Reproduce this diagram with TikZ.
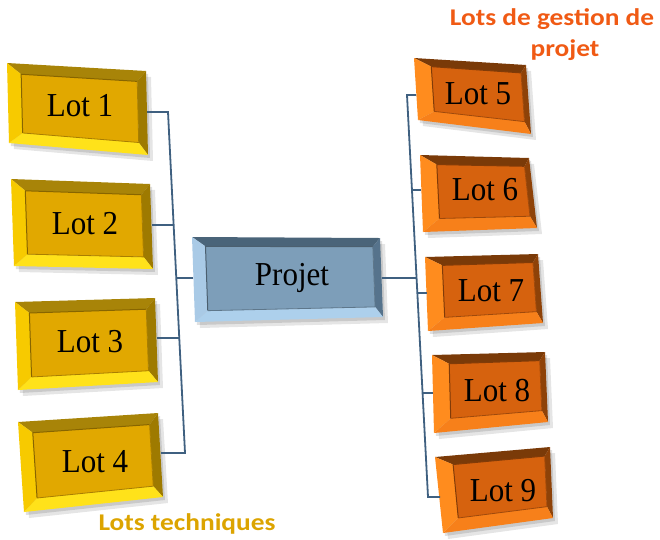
\documentclass[tikz,border=0pt]{standalone}
\usepackage{fontspec}
\setmainfont{Liberation Serif}
\newfontfamily\lblfont{Carlito}
\usetikzlibrary{calc}

\definecolor{Y-face}{HTML}{E1A800}
\definecolor{Y-top}{HTML}{A88408}
\definecolor{Y-left}{HTML}{F7CA00}
\definecolor{Y-bot}{HTML}{FFE21A}
\definecolor{Y-right}{HTML}{9E7A00}
\definecolor{O-face}{HTML}{D6620E}
\definecolor{O-top}{HTML}{7A3A08}
\definecolor{O-left}{HTML}{FF8C1E}
\definecolor{O-bot}{HTML}{F7801A}
\definecolor{O-right}{HTML}{8E4208}
\definecolor{B-face}{HTML}{7D9EB9}
\definecolor{B-top}{HTML}{4A6479}
\definecolor{B-left}{HTML}{A9CAE6}
\definecolor{B-bot}{HTML}{ADD0EC}
\definecolor{B-right}{HTML}{56738C}
\definecolor{linkcol}{HTML}{3F6080}
\definecolor{orangelbl}{HTML}{F05A14}
\definecolor{goldlbl}{HTML}{DCA400}

\tikzset{
  link/.style={draw=linkcol, line width=1.8pt, line join=miter},
  lottext/.style={font=\fontsize{31}{31}\selectfont, text=black, inner sep=0pt, yscale=1.08},
  lbl/.style={font=\lblfont\bfseries\fontsize{24}{26}\selectfont, inner sep=0pt, xscale=1.14}
}

% #1 name, #2 TL, #3 TR, #4 BR, #5 BL, #6 palette, #7 text pos, #8 text
\newcommand\bevbox[8]{%
  \coordinate (#1-a) at #2;
  \coordinate (#1-b) at #3;
  \coordinate (#1-c) at #4;
  \coordinate (#1-d) at #5;
  \fill[black,opacity=.10] ($(#1-a)+(5,6)$) -- ($(#1-b)+(5,6)$) -- ($(#1-c)+(5,6)$) -- ($(#1-d)+(5,6)$) -- cycle;
  \fill[black,opacity=.12] ($(#1-a)+(2,3)$) -- ($(#1-b)+(2,3)$) -- ($(#1-c)+(2,3)$) -- ($(#1-d)+(2,3)$) -- cycle;
  \coordinate (#1-t1) at ($(#1-a)!\uL!(#1-b)$);
  \coordinate (#1-t2) at ($(#1-a)!\uRc!(#1-b)$);
  \coordinate (#1-b1) at ($(#1-d)!\uL!(#1-c)$);
  \coordinate (#1-b2) at ($(#1-d)!\uRc!(#1-c)$);
  \coordinate (#1-ia) at ($(#1-t1)!\vT!(#1-b1)$);
  \coordinate (#1-id) at ($(#1-t1)!\vBc!(#1-b1)$);
  \coordinate (#1-ib) at ($(#1-t2)!\vT!(#1-b2)$);
  \coordinate (#1-ic) at ($(#1-t2)!\vBc!(#1-b2)$);
  \fill[#6-top] (#1-a) -- (#1-b) -- (#1-ib) -- (#1-ia) -- cycle;
  \fill[#6-right] (#1-b) -- (#1-c) -- (#1-ic) -- (#1-ib) -- cycle;
  \fill[#6-bot] (#1-d) -- (#1-c) -- (#1-ic) -- (#1-id) -- cycle;
  \fill[#6-left] (#1-a) -- (#1-ia) -- (#1-id) -- (#1-d) -- cycle;
  \fill[#6-face] (#1-ia) -- (#1-ib) -- (#1-ic) -- (#1-id) -- cycle;
  \draw[#6-face!60!black, line width=1pt] (#1-id) -- (#1-ia) -- (#1-ib);
  \draw[#6-face!75!black, line width=0.8pt] (#1-ib) -- (#1-ic) -- (#1-id);
  \node[lottext] (#1) at #7 {#8};
}

\begin{document}
\begin{tikzpicture}[x=1pt,y=-1pt]
\useasboundingbox (0,0) rectangle (660,539);

% yellow boxes
\def\uL{.10}\def\uRc{.935}\def\vT{.13}\def\vBc{.86}
\bevbox{b1}{(7,63)}{(146,71)}{(148,155)}{(9,143)}{Y}{(80,106)}{Lot 1}
\bevbox{b2}{(11,179)}{(150,184)}{(153,269)}{(14,266)}{Y}{(85,224)}{Lot 2}
\bevbox{b3}{(15,302)}{(155,298)}{(158,382)}{(18,390)}{Y}{(90,342)}{Lot 3}
\bevbox{b4}{(18,422)}{(158,413)}{(163,497)}{(24,512)}{Y}{(95,462)}{Lot 4}

% central box
\def\uL{.07}\def\uRc{.96}\def\vT{.11}\def\vBc{.87}
\bevbox{pr}{(192,237)}{(380,238)}{(383,317)}{(195,322)}{B}{(292,278)}{Projet}

% orange boxes
\def\uL{.15}\def\uRc{.95}\def\vT{.12}\def\vBc{.83}
\bevbox{b5}{(414,58)}{(526,65)}{(531,134)}{(418,120)}{O}{(478,94)}{Lot 5}
\bevbox{b6}{(420,155)}{(529,158)}{(537,228)}{(423,232)}{O}{(485,190)}{Lot 6}
\bevbox{b7}{(425,257)}{(538,254)}{(543,323)}{(428,331)}{O}{(491,291)}{Lot 7}
\bevbox{b8}{(432,355)}{(545,352)}{(548,422)}{(434,433)}{O}{(497,391)}{Lot 8}
\bevbox{b9}{(435,457)}{(550,447)}{(553,518)}{(443,533)}{O}{(503,491)}{Lot 9}

% attachment coordinates
\coordinate (e1) at (147,112);
\coordinate (e2) at (152,225);
\coordinate (e3) at (157,338);
\coordinate (e4) at (161,453);
\coordinate (pl) at (193,278);
\coordinate (prr) at (382,278);
\coordinate (e5) at (416,95);
\coordinate (e6) at (421,190);
\coordinate (e7) at (427,293);
\coordinate (e8) at (433,393);
\coordinate (e9) at (440,497);

\coordinate (ls1) at (168,112);
\coordinate (ls2) at (173.6,225);
\coordinate (lsp) at (176.3,278);
\coordinate (ls3) at (179.3,338);
\coordinate (ls4) at (185,453);

\coordinate (rs5) at (407,95);
\coordinate (rs6) at (412,190);
\coordinate (rsp) at (416.6,278);
\coordinate (rs7) at (417.3,293);
\coordinate (rs8) at (422.6,393);
\coordinate (rs9) at (428,497);

\draw[link] (e1) -- (ls1) -- (ls4) -- (e4);
\draw[link] (e2) -- (ls2);
\draw[link] (e3) -- (ls3);
\draw[link] (pl) -- (lsp);

\draw[link] (e5) -- (rs5) -- (rs9) -- (e9);
\draw[link] (e6) -- (rs6);
\draw[link] (e7) -- (rs7);
\draw[link] (e8) -- (rs8);
\draw[link] (prr) -- (rsp);

% labels
\node[lbl, text=orangelbl] (lg1) at (552,19) {Lots de gestion de};
\node[lbl, text=orangelbl] (lg2) at (565,50) {projet};
\node[lbl, text=goldlbl] (lt) at (187,524) {Lots techniques};
\end{tikzpicture}
\end{document}
